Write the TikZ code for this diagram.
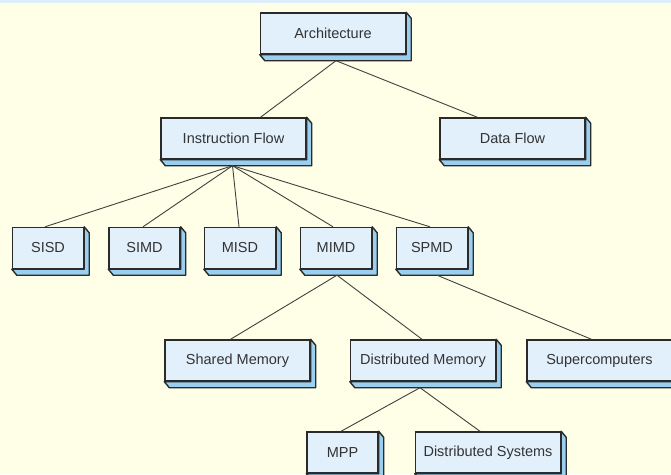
\documentclass[tikz,border=0pt]{standalone}
\usepackage{fontspec}
\setmainfont{Liberation Sans}
\usepackage{tikz}
\usetikzlibrary{arrows.meta, positioning}

\definecolor{paper}{HTML}{FFFFE8}
\definecolor{topstrip}{HTML}{DDEEFA}
\definecolor{boxfront}{HTML}{E2F0FC}
\definecolor{boxside}{HTML}{9ACFF0}
\definecolor{boxline}{HTML}{2A2A2A}
\definecolor{inkgray}{HTML}{333333}
\definecolor{linkgray}{HTML}{404040}

\begin{document}
\begin{tikzpicture}[
    x=1pt, y=-1pt,
    every node/.style={font=\fontsize{14.5}{17}\selectfont, text=inkgray},
    block/.style={draw=boxline, fill=boxfront, line width=1.4pt, minimum height=41pt, inner sep=2pt},
    wide/.style={block, minimum width=145pt},
    narrow/.style={block, minimum width=71pt},
    extrude/.style={draw=boxline, fill=boxside, line width=1.4pt, line join=round},
    link/.style={draw=linkgray, line width=0.9pt}
]

% Background
\fill[paper] (0,0) rectangle (671,474);
\fill[topstrip] (0,0) rectangle (671,2.5);
\useasboundingbox (0,0) rectangle (671,474);

% Nodes
\node[wide] (Arch) at (333,33.5) {Architecture};
\node[wide] (IFlow) at (233.5,138.5) {Instruction Flow};
\node[wide] (DFlow) at (512.5,138.5) {Data Flow};

\node[narrow] (SISD) at (48,248) {SISD};
\node[narrow] (SIMD) at (144.5,248) {SIMD};
\node[narrow] (MISD) at (240,248) {MISD};
\node[narrow] (MIMD) at (336,248) {MIMD};
\node[narrow] (SPMD) at (432,248) {SPMD};

\node[wide] (SharedMem) at (237.5,360.5) {Shared Memory};
\node[wide] (DistMem) at (423,360.5) {Distributed Memory};
\node[wide] (Super) at (599.5,360.5) {Supercomputers};

\node[narrow] (MPP) at (342.5,452.5) {MPP};
\node[wide] (DistSys) at (488,452.5) {Distributed Systems};

% Extruded sides
\foreach \n in {Arch, IFlow, DFlow, SISD, SIMD, MISD, MIMD, SPMD, SharedMem, DistMem, Super, MPP, DistSys}
    \path[extrude] (\n.north east) -- ++(5,6) -- ([shift={(5,6)}]\n.south east)
        -- ([shift={(5,6)}]\n.south west) -- (\n.south west) -- (\n.south east) -- cycle;

% Links
\draw[link] ([shift={(3,6)}]Arch.south) -- ([xshift=27]IFlow.north);
\draw[link] ([shift={(3,6)}]Arch.south) -- ([xshift=-35]DFlow.north);

\foreach \n/\dx in {SISD/-3, SIMD/-1.5, MISD/-1, MIMD/-3, SPMD/-2}
    \draw[link] ([shift={(-1,6)}]IFlow.south) -- ([xshift=\dx]\n.north);

\draw[link] ([shift={(1,6)}]MIMD.south) -- ([xshift=-7]SharedMem.north);
\draw[link] ([shift={(1,6)}]MIMD.south) -- ([xshift=-1]DistMem.north);
\draw[link] ([shift={(5,6)}]SPMD.south) -- ([xshift=-8]Super.north);

\draw[link] ([shift={(-3,6)}]DistMem.south) -- ([xshift=-1.5]MPP.north);
\draw[link] ([shift={(-3,6)}]DistMem.south) -- ([xshift=-8]DistSys.north);

\end{tikzpicture}
\end{document}
